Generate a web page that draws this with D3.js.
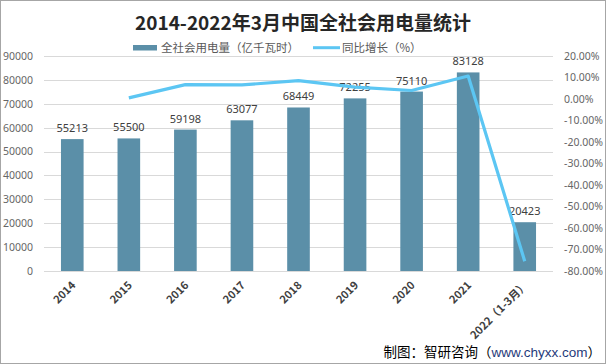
<!DOCTYPE html>
<html>
<head>
<meta charset="utf-8">
<script src="https://cdn.jsdelivr.net/npm/d3@7"></script>
<style>
	body { margin: 0; background: #fff; }
	svg text { font-family: "Noto Sans CJK SC", "Noto Sans", sans-serif; }
</style>
</head>
<body>
<div id="chart"></div>
<script>

let width = 606;
let height = 364;

// data
let years = ["2014", "2015", "2016", "2017", "2018", "2019", "2020", "2021", "2022（1-3月）"];
let usage = [55213, 55500, 59198, 63077, 68449, 72255, 75110, 83128, 20423];
let growth = [null, 0.52, 6.66, 6.55, 8.52, 5.56, 3.95, 10.67, -75.43];
let leftTicks = [0, 10000, 20000, 30000, 40000, 50000, 60000, 70000, 80000, 90000];
let rightTicks = [20, 10, 0, -10, -20, -30, -40, -50, -60, -70, -80];

let barColor = "#5b8fa8";
let lineColor = "#5cc6f3";

let plotLeft = 44, plotRight = 553, plotTop = 56, plotBottom = 271;

let svg = d3.select("#chart")
	.append("svg")
	.attr("width", width)
	.attr("height", height);

// outer frame
svg.append("rect")
	.attr("x", 0.5).attr("y", 0.5)
	.attr("width", width - 1).attr("height", height - 1)
	.attr("fill", "#fff")
	.attr("stroke", "#a6a6a6");

let x = d3.scaleBand()
	.domain(years)
	.range([plotLeft, plotRight])
	.paddingInner(0.6)
	.paddingOuter(0.3);

let yL = d3.scaleLinear().domain([0, 90000]).range([plotBottom, plotTop]);
let yR = d3.scaleLinear().domain([-80, 20]).range([plotBottom, plotTop]);

// title
svg.append("text")
	.attr("x", 303)
	.attr("y", 30)
	.attr("text-anchor", "middle")
	.style("font-size", "19px")
	.style("font-weight", "bold")
	.attr("fill", "#262626")
	.text("2014-2022年3月中国全社会用电量统计");

// legend
let legend = svg.append("g").style("font-size", "11.5px").attr("fill", "#595959");
legend.append("rect")
	.attr("x", 133).attr("y", 45)
	.attr("width", 24).attr("height", 5.5)
	.attr("fill", barColor);
legend.append("text").attr("x", 161).attr("y", 52).text("全社会用电量（亿千瓦时）");
legend.append("line")
	.attr("x1", 313).attr("x2", 340)
	.attr("y1", 47.7).attr("y2", 47.7)
	.attr("stroke", lineColor)
	.attr("stroke-width", 3);
legend.append("text").attr("x", 342).attr("y", 52).text("同比增长（%）");

// gridlines
svg.append("g")
	.selectAll("line")
	.data(leftTicks)
	.enter().append("line")
	.attr("x1", plotLeft).attr("x2", plotRight)
	.attr("y1", d => Math.round(yL(d)) + 0.5)
	.attr("y2", d => Math.round(yL(d)) + 0.5)
	.attr("stroke", "#d9d9d9")
	.attr("stroke-width", 1);

// left axis
let axL = svg.append("g")
	.attr("transform", "translate(" + plotLeft + ",0)")
	.call(d3.axisLeft(yL).tickValues(leftTicks).tickSize(0).tickPadding(11).tickFormat(d3.format("d")));
axL.select(".domain").remove();
axL.selectAll("text")
	.style("font-size", "10.5px")
	.style("font-family", "\"Noto Sans\", sans-serif")
	.attr("fill", "#666");

// right axis
let axR = svg.append("g")
	.attr("transform", "translate(" + plotRight + ",0)")
	.call(d3.axisRight(yR).tickValues(rightTicks).tickSize(0).tickPadding(11).tickFormat(d => d.toFixed(2) + "%"));
axR.select(".domain").remove();
axR.selectAll("text")
	.style("font-size", "10.5px")
	.style("font-family", "\"Noto Sans\", sans-serif")
	.attr("fill", "#666");

// bars
svg.append("g")
	.selectAll("rect")
	.data(usage)
	.enter().append("rect")
	.attr("x", (d, i) => x(years[i]))
	.attr("y", d => yL(d))
	.attr("width", x.bandwidth())
	.attr("height", d => yL(0) - yL(d))
	.attr("fill", barColor);

// value labels
svg.append("g")
	.selectAll("text")
	.data(usage)
	.enter().append("text")
	.attr("x", (d, i) => x(years[i]) + x.bandwidth() / 2)
	.attr("y", d => yL(d) - 7)
	.attr("text-anchor", "middle")
	.style("font-size", "11px")
	.style("font-family", "\"Noto Sans\", sans-serif")
	.attr("fill", "#404040")
	.text(d => d);

// growth line
let pts = growth.map((g, i) => ({ year: years[i], g: g })).filter(d => d.g !== null);
let line = d3.line()
	.x(d => x(d.year) + x.bandwidth() / 2)
	.y(d => yR(d.g));

svg.append("path")
	.datum(pts)
	.attr("d", line)
	.attr("fill", "none")
	.attr("stroke", lineColor)
	.attr("stroke-width", 3.2)
	.attr("stroke-linejoin", "round");

// bottom axis
let axB = svg.append("g")
	.attr("transform", "translate(0," + plotBottom + ")")
	.call(d3.axisBottom(x).tickSize(0));
axB.select(".domain").remove();
axB.selectAll("text")
	.attr("x", 0).attr("y", 0).attr("dy", 0)
	.attr("transform", "translate(4,15) rotate(-45)")
	.attr("text-anchor", "end")
	.style("font-size", "11px")
	.style("font-weight", "bold")
	.attr("fill", "#404040");

// source note
let note = svg.append("text")
	.attr("x", 601)
	.attr("y", 357)
	.attr("text-anchor", "end")
	.style("font-size", "13.5px")
	.attr("fill", "#000");
note.append("tspan").text("制图：智研咨询（");
note.append("tspan").attr("fill", "#1f3a7a").style("font-family", "\"Liberation Sans\", sans-serif").text("www.chyxx.com");
note.append("tspan").text("）");

</script>
</body>
</html>
